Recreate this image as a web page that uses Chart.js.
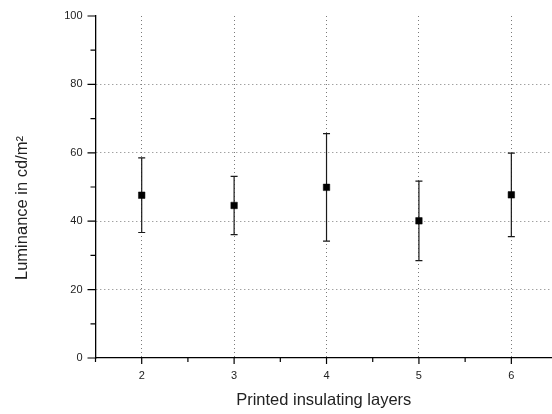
<!DOCTYPE html>
<html>
<head>
<meta charset="utf-8">
<script src="https://cdn.jsdelivr.net/npm/chart.js@4.4.1/dist/chart.umd.min.js"></script>
<style>
  body { margin: 0; background: #fff; }
  #wrap { width: 552px; height: 414px; }
</style>
</head>
<body>
<div id="wrap"><canvas id="chart" width="552" height="414"></canvas></div>
<script>
// printed insulating layers vs luminance (mean +- error)
const layers = [2, 3, 4, 5, 6];
const luminance = [47.6, 44.6, 49.9, 40.1, 47.7];
const errors = [10.9, 8.5, 15.7, 11.6, 12.2];
const xTicks = [1.5, 2, 2.5, 3, 3.5, 4, 4.5, 5, 5.5, 6];

const points = layers.map((x, i) => ({x: x, y: luminance[i]}));
const FONT = "'Liberation Sans', Arial, sans-serif";

const errorBars = {
  id: 'errorBars',
  beforeDatasetsDraw(chart) {
    const ctx = chart.ctx;
    const xs = chart.scales.x, ys = chart.scales.y;
    ctx.save();
    ctx.strokeStyle = '#1a1a1a';
    ctx.lineWidth = 1.2;
    layers.forEach((l, i) => {
      const x = xs.getPixelForValue(l);
      const top = ys.getPixelForValue(luminance[i] + errors[i]);
      const bot = ys.getPixelForValue(luminance[i] - errors[i]);
      ctx.beginPath();
      ctx.moveTo(x, top); ctx.lineTo(x, bot);
      ctx.moveTo(x - 3.5, top); ctx.lineTo(x + 3.5, top);
      ctx.moveTo(x - 3.5, bot); ctx.lineTo(x + 3.5, bot);
      ctx.stroke();
    });
    ctx.restore();
  },
  afterDraw(chart) {
    const ctx = chart.ctx;
    const area = chart.chartArea;
    const xs = chart.scales.x, ys = chart.scales.y;
    ctx.save();
    ctx.strokeStyle = '#000';
    ctx.lineWidth = 1.2;
    ctx.beginPath();
    ys.ticks.forEach(t => {
      const y = ys.getPixelForValue(t.value);
      const len = t.value % 20 === 0 ? 8 : 5;
      ctx.moveTo(area.left, y); ctx.lineTo(area.left - len, y);
    });
    xs.ticks.forEach(t => {
      const x = xs.getPixelForValue(t.value);
      const len = Number.isInteger(t.value) ? 6 : 4;
      ctx.moveTo(x, area.bottom); ctx.lineTo(x, area.bottom + len);
    });
    ctx.stroke();

    // y axis title, placed like the original (below the centre)
    ctx.translate(27, 208);
    ctx.rotate(-Math.PI / 2);
    ctx.fillStyle = '#222';
    ctx.font = '16.5px ' + FONT;
    ctx.textAlign = 'center';
    ctx.textBaseline = 'alphabetic';
    ctx.fillText('Luminance in cd/m²', 0, 0);
    ctx.restore();
  }
};

new Chart(document.getElementById('chart'), {
  type: 'scatter',
  data: {
    datasets: [{
      data: points,
      pointStyle: 'rect',
      pointRadius: 4.6,
      pointHoverRadius: 4.6,
      backgroundColor: '#000',
      borderColor: '#000',
      borderWidth: 0.5
    }]
  },
  options: {
    responsive: false,
    animation: false,
    events: [],
    layout: {autoPadding: false, padding: {top: 16, left: 0, right: 0, bottom: 0}},
    plugins: {legend: {display: false}, tooltip: {enabled: false}},
    scales: {
      x: {
        type: 'linear',
        min: 1.5,
        max: 6.44,
        afterBuildTicks: scale => { scale.ticks = xTicks.map(v => ({value: v})); },
        afterFit: scale => {
          scale.height = 56;
          scale.paddingLeft = 0;
          scale.paddingRight = 0;
        },
        grid: {
          drawTicks: false,
          color: c => (c.tick && Number.isInteger(c.tick.value)) ? '#7a7a7a' : 'rgba(0,0,0,0)',
          lineWidth: 1
        },
        border: {display: true, color: '#000', width: 1.3, dash: [1, 3]},
        ticks: {
          padding: 11,
          color: '#222',
          font: {family: FONT, size: 11},
          maxRotation: 0,
          autoSkip: false,
          callback: v => Number.isInteger(v) ? String(v) : ''
        },
        title: {
          display: true,
          text: 'Printed insulating layers',
          color: '#222',
          font: {family: FONT, size: 16.5},
          padding: {top: 0, bottom: 4}
        }
      },
      y: {
        min: 0,
        max: 100,
        afterFit: scale => {
          scale.width = 95.5;
          scale.paddingTop = 0;
          scale.paddingBottom = 0;
        },
        grid: {
          drawTicks: false,
          color: c => (c.tick && c.tick.value % 20 === 0 && c.tick.value > 0 && c.tick.value < 100) ? '#7a7a7a' : 'rgba(0,0,0,0)',
          lineWidth: 1
        },
        border: {display: true, color: '#000', width: 1.3, dash: [1, 3]},
        ticks: {
          stepSize: 10,
          padding: 13,
          color: '#222',
          font: {family: FONT, size: 11},
          autoSkip: false,
          callback: v => v % 20 === 0 ? String(v) : ''
        },
        title: {display: false}
      }
    }
  },
  plugins: [errorBars]
});
</script>
</body>
</html>
